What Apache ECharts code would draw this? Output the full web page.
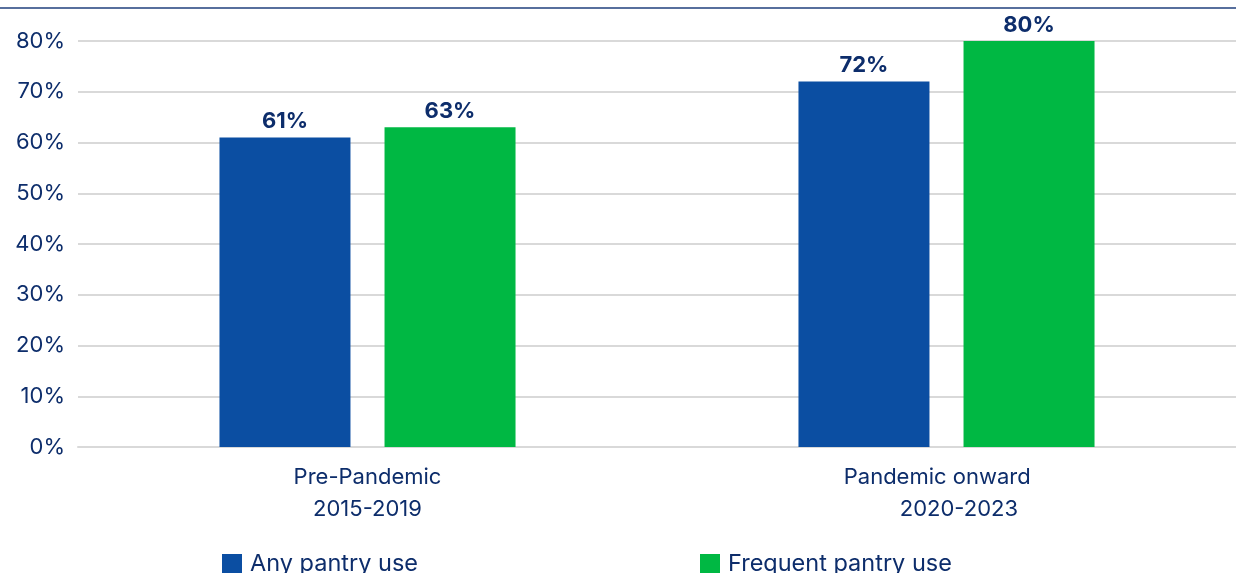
<!DOCTYPE html>
<html>
<head>
<meta charset="utf-8">
<script src="https://cdn.jsdelivr.net/npm/echarts@6/dist/echarts.min.js"></script>
<style>
  html, body { margin: 0; padding: 0; background: #ffffff; }
  #chart { width: 1236px; height: 573px; }
</style>
</head>
<body>
<div id="chart"></div>
<script>
// Share of households using food pantries, by period
const categories = ['Pre-Pandemic\n2015-2019', 'Pandemic onward   \n    2020-2023'];
const anyPantryUse = [61, 72];
const frequentPantryUse = [63, 80];
const seriesNames = ['Any pantry use', 'Frequent pantry use'];

const NAVY = '#0d2d6b';
const BLUE = '#0b4ea2';
const GREEN = '#00b843';
const FONT = 'Inter, "Noto Sans", sans-serif';

const chart = echarts.init(document.getElementById('chart'), null, { renderer: 'canvas' });

const labelStyle = {
  show: true,
  position: 'top',
  distance: 5,
  formatter: p => p.value + '%',
  color: NAVY,
  fontFamily: FONT,
  fontWeight: 'bold',
  fontSize: 22
};

chart.setOption({
  animation: false,
  graphic: [{
    type: 'line',
    shape: { x1: 0, y1: 8, x2: 1236, y2: 8 },
    style: { stroke: '#1f3f7c', lineWidth: 1.5 }
  }],
  grid: { left: 78, right: -2, top: 41, bottom: 126 },
  legend: {
    data: seriesNames,
    bottom: -8,
    left: 217,
    itemWidth: 20,
    itemHeight: 20,
    itemGap: 282,
    icon: 'rect',
    textStyle: { color: NAVY, fontFamily: FONT, fontSize: 23.5, padding: [0, 0, 0, 3] }
  },
  xAxis: {
    type: 'category',
    data: categories,
    axisLine: { show: true, lineStyle: { color: '#d9d9d9', width: 2 } },
    axisTick: { show: false },
    axisLabel: {
      color: NAVY,
      fontFamily: FONT,
      fontSize: 22,
      lineHeight: 32,
      margin: 14
    }
  },
  yAxis: {
    type: 'value',
    min: 0,
    max: 80,
    interval: 10,
    axisLine: { show: false },
    axisTick: { show: false },
    splitLine: { lineStyle: { color: '#d9d9d9', width: 2 } },
    axisLabel: {
      formatter: '{value}%',
      color: NAVY,
      fontFamily: FONT,
      fontSize: 22,
      margin: 13
    }
  },
  series: [
    {
      name: seriesNames[0],
      type: 'bar',
      data: anyPantryUse,
      barWidth: 131,
      barGap: '26%',
      itemStyle: { color: BLUE },
      label: labelStyle
    },
    {
      name: seriesNames[1],
      type: 'bar',
      data: frequentPantryUse,
      barWidth: 131,
      barGap: '26%',
      itemStyle: { color: GREEN },
      label: labelStyle
    }
  ]
});
</script>
</body>
</html>
